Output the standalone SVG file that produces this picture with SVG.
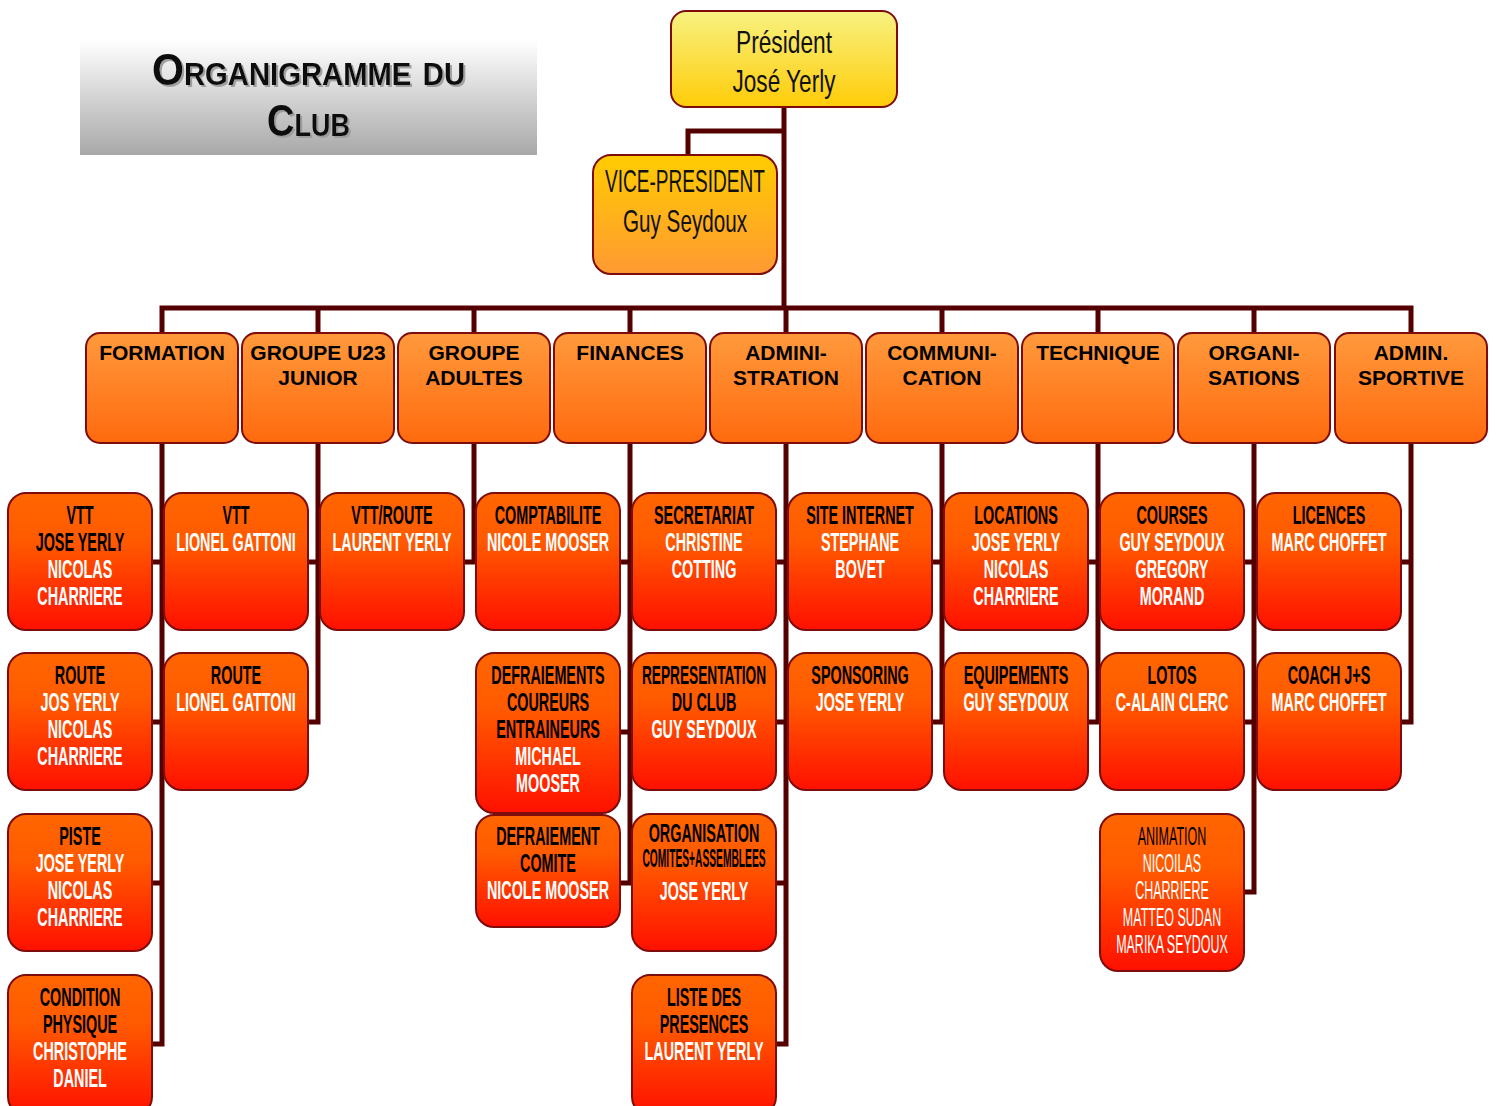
<svg xmlns="http://www.w3.org/2000/svg" width="1496" height="1106" viewBox="0 0 1496 1106">
<defs>
<linearGradient id="gTitle" x1="0" y1="0" x2="0" y2="1"><stop offset="0" stop-color="#ffffff"/><stop offset="1" stop-color="#a8a8a8"/></linearGradient>
<linearGradient id="gPres" x1="0" y1="0" x2="0" y2="1"><stop offset="0" stop-color="#f8f282"/><stop offset="1" stop-color="#ffcc08"/></linearGradient>
<linearGradient id="gVP" x1="0" y1="0" x2="0" y2="1"><stop offset="0" stop-color="#ffcc00"/><stop offset="1" stop-color="#ff9933"/></linearGradient>
<linearGradient id="gDept" x1="0" y1="0" x2="0" y2="1"><stop offset="0" stop-color="#ff9a3c"/><stop offset="1" stop-color="#ff6a0e"/></linearGradient>
<linearGradient id="gLeaf" x1="0" y1="0" x2="0" y2="1"><stop offset="0" stop-color="#ff6600"/><stop offset="0.35" stop-color="#ff5a00"/><stop offset="1" stop-color="#ff1000"/></linearGradient>
<filter id="shadow" x="-5%" y="-20%" width="110%" height="140%"><feDropShadow dx="2" dy="2" stdDeviation="0.6" flood-color="#9a9a9a" flood-opacity="0.9"/></filter>
</defs>
<style>
.conn{stroke:#550000;stroke-width:5;fill:none;stroke-linejoin:miter}
.box{stroke:#7f0c0c;stroke-width:2}
.pres rect{fill:url(#gPres)}
.vp rect{fill:url(#gVP)}
.dept rect{fill:url(#gDept)}
.leaf rect{fill:url(#gLeaf)}
.big{font-family:"Liberation Sans",Arial,sans-serif;font-size:32px;text-anchor:middle;fill:#111}
.dept text{font-family:"Liberation Sans",Arial,sans-serif;font-weight:bold;font-size:21px;text-anchor:middle;fill:#000}
.leaf text{font-family:"Liberation Sans",Arial,sans-serif;font-weight:bold;font-size:25px;text-anchor:middle}
.leaf text.thin{font-weight:normal}
.k{fill:#000}
.w{fill:#fff}
.ttl{font-family:"Liberation Sans",Arial,sans-serif;font-weight:bold;font-size:45px;font-variant:small-caps;fill:#111}
</style>

<g id="title">
<rect x="80" y="40" width="457" height="115" fill="url(#gTitle)"/>
<g class="ttl" filter="url(#shadow)">
<text x="152" y="85" textLength="313" lengthAdjust="spacingAndGlyphs">Organigramme du</text>
<text x="267" y="136" textLength="83" lengthAdjust="spacingAndGlyphs">Club</text>
</g>
</g>

<g id="connectors">
<path class="conn" d="M784 107 V308"/>
<path class="conn" d="M784 131 H688 V155"/>
<path class="conn" d="M162 333 V308 H1411 V333"/>
<path class="conn" d="M318 308 V333 M474 308 V333 M630 308 V333 M786 308 V333 M942 308 V333 M1098 308 V333 M1254 308 V333"/>
<path class="conn" d="M162 443 V1044 H152 M152 562 H162 M152 722 H162 M152 883 H162"/>
<path class="conn" d="M318 443 V722 H308 M308 562 H318"/>
<path class="conn" d="M474 443 V562 H464"/>
<path class="conn" d="M630 443 V883 H620 M620 562 H630 M620 732 H630"/>
<path class="conn" d="M786 443 V1044 H776 M776 562 H786 M776 722 H786 M776 883 H786"/>
<path class="conn" d="M942 443 V722 H932 M932 562 H942"/>
<path class="conn" d="M1098 443 V722 H1088 M1088 562 H1098"/>
<path class="conn" d="M1254 443 V892 H1244 M1244 562 H1254 M1244 722 H1254"/>
<path class="conn" d="M1411 443 V722 H1401 M1401 562 H1411"/>
</g>

<g id="president" class="pres">
<rect class="box" x="671" y="11" width="226" height="96" rx="15"/>
<text class="big" x="784" y="53" textLength="96" lengthAdjust="spacingAndGlyphs">Président</text>
<text class="big" x="784" y="92" textLength="103" lengthAdjust="spacingAndGlyphs">José Yerly</text>
</g>

<g id="vice-president" class="vp">
<rect class="box" x="593" y="155" width="184" height="119" rx="18"/>
<text class="big" x="685" y="192" textLength="160" lengthAdjust="spacingAndGlyphs">VICE-PRESIDENT</text>
<text class="big" x="685" y="232" textLength="124" lengthAdjust="spacingAndGlyphs">Guy Seydoux</text>
</g>

<g id="dept-formation" class="dept"><rect class="box" x="86" y="333" width="152" height="110" rx="14"/><text x="162" y="360">FORMATION</text></g>
<g id="dept-u23" class="dept"><rect class="box" x="242" y="333" width="152" height="110" rx="14"/><text x="318" y="360">GROUPE U23</text><text x="318" y="385">JUNIOR</text></g>
<g id="dept-adultes" class="dept"><rect class="box" x="398" y="333" width="152" height="110" rx="14"/><text x="474" y="360">GROUPE</text><text x="474" y="385">ADULTES</text></g>
<g id="dept-finances" class="dept"><rect class="box" x="554" y="333" width="152" height="110" rx="14"/><text x="630" y="360">FINANCES</text></g>
<g id="dept-administration" class="dept"><rect class="box" x="710" y="333" width="152" height="110" rx="14"/><text x="786" y="360">ADMINI-</text><text x="786" y="385">STRATION</text></g>
<g id="dept-communication" class="dept"><rect class="box" x="866" y="333" width="152" height="110" rx="14"/><text x="942" y="360">COMMUNI-</text><text x="942" y="385">CATION</text></g>
<g id="dept-technique" class="dept"><rect class="box" x="1022" y="333" width="152" height="110" rx="14"/><text x="1098" y="360">TECHNIQUE</text></g>
<g id="dept-organisations" class="dept"><rect class="box" x="1178" y="333" width="152" height="110" rx="14"/><text x="1254" y="360">ORGANI-</text><text x="1254" y="385">SATIONS</text></g>
<g id="dept-adminsportive" class="dept"><rect class="box" x="1335" y="333" width="152" height="110" rx="14"/><text x="1411" y="360">ADMIN.</text><text x="1411" y="385">SPORTIVE</text></g>

<!-- FORMATION -->
<g id="f-vtt" class="leaf"><rect class="box" x="8" y="493" width="144" height="137" rx="18"/>
<g transform="translate(80,493) scale(0.575,1)"><text y="31" class="k">VTT</text><text y="58" class="k">JOSE YERLY</text><text y="85" class="w">NICOLAS</text><text y="112" class="w">CHARRIERE</text></g></g>
<g id="f-route" class="leaf"><rect class="box" x="8" y="653" width="144" height="137" rx="18"/>
<g transform="translate(80,653) scale(0.575,1)"><text y="31" class="k">ROUTE</text><text y="58" class="w">JOS YERLY</text><text y="85" class="w">NICOLAS</text><text y="112" class="w">CHARRIERE</text></g></g>
<g id="f-piste" class="leaf"><rect class="box" x="8" y="814" width="144" height="137" rx="18"/>
<g transform="translate(80,814) scale(0.575,1)"><text y="31" class="k">PISTE</text><text y="58" class="w">JOSE YERLY</text><text y="85" class="w">NICOLAS</text><text y="112" class="w">CHARRIERE</text></g></g>
<g id="f-condition" class="leaf"><rect class="box" x="8" y="975" width="144" height="140" rx="18"/>
<g transform="translate(80,975) scale(0.575,1)"><text y="31" class="k">CONDITION</text><text y="58" class="k">PHYSIQUE</text><text y="85" class="w">CHRISTOPHE</text><text y="112" class="w">DANIEL</text></g></g>

<!-- U23 -->
<g id="u-vtt" class="leaf"><rect class="box" x="164" y="493" width="144" height="137" rx="18"/>
<g transform="translate(236,493) scale(0.575,1)"><text y="31" class="k">VTT</text><text y="58" class="w">LIONEL GATTONI</text></g></g>
<g id="u-route" class="leaf"><rect class="box" x="164" y="653" width="144" height="137" rx="18"/>
<g transform="translate(236,653) scale(0.575,1)"><text y="31" class="k">ROUTE</text><text y="58" class="w">LIONEL GATTONI</text></g></g>

<!-- ADULTES -->
<g id="a-vttroute" class="leaf"><rect class="box" x="320" y="493" width="144" height="137" rx="18"/>
<g transform="translate(392,493) scale(0.575,1)"><text y="31" class="k">VTT/ROUTE</text><text y="58" class="w">LAURENT YERLY</text></g></g>

<!-- FINANCES -->
<g id="fi-compta" class="leaf"><rect class="box" x="476" y="493" width="144" height="137" rx="18"/>
<g transform="translate(548,493) scale(0.575,1)"><text y="31" class="k">COMPTABILITE</text><text y="58" class="w">NICOLE MOOSER</text></g></g>
<g id="fi-defraiements" class="leaf"><rect class="box" x="476" y="653" width="144" height="160" rx="18"/>
<g transform="translate(548,653) scale(0.575,1)"><text y="31" class="k">DEFRAIEMENTS</text><text y="58" class="k">COUREURS</text><text y="85" class="k">ENTRAINEURS</text><text y="112" class="w">MICHAEL</text><text y="139" class="w">MOOSER</text></g></g>
<g id="fi-comite" class="leaf"><rect class="box" x="476" y="815" width="144" height="112" rx="18"/>
<g transform="translate(548,815) scale(0.575,1)"><text y="30" class="k">DEFRAIEMENT</text><text y="57" class="k">COMITE</text><text y="84" class="w">NICOLE MOOSER</text></g></g>

<!-- ADMINISTRATION -->
<g id="ad-secretariat" class="leaf"><rect class="box" x="632" y="493" width="144" height="137" rx="18"/>
<g transform="translate(704,493) scale(0.575,1)"><text y="31" class="k">SECRETARIAT</text><text y="58" class="w">CHRISTINE</text><text y="85" class="w">COTTING</text></g></g>
<g id="ad-representation" class="leaf"><rect class="box" x="632" y="653" width="144" height="137" rx="18"/>
<g transform="translate(704,653) scale(0.575,1)"><text y="31" class="k" textLength="216" lengthAdjust="spacingAndGlyphs">REPRESENTATION</text><text y="58" class="k">DU CLUB</text><text y="85" class="w">GUY SEYDOUX</text></g></g>
<g id="ad-organisation" class="leaf"><rect class="box" x="632" y="814" width="144" height="137" rx="18"/>
<g transform="translate(704,814) scale(0.575,1)"><text y="28" class="k">ORGANISATION</text><text y="53" class="k" font-size="15" textLength="214" lengthAdjust="spacingAndGlyphs">COMITES+ASSEMBLEES</text><text y="86" class="w">JOSE YERLY</text></g></g>
<g id="ad-presences" class="leaf"><rect class="box" x="632" y="975" width="144" height="140" rx="18"/>
<g transform="translate(704,975) scale(0.575,1)"><text y="31" class="k">LISTE DES</text><text y="58" class="k">PRESENCES</text><text y="85" class="w">LAURENT YERLY</text></g></g>

<!-- COMMUNICATION -->
<g id="c-site" class="leaf"><rect class="box" x="788" y="493" width="144" height="137" rx="18"/>
<g transform="translate(860,493) scale(0.575,1)"><text y="31" class="k">SITE INTERNET</text><text y="58" class="w">STEPHANE</text><text y="85" class="w">BOVET</text></g></g>
<g id="c-sponsoring" class="leaf"><rect class="box" x="788" y="653" width="144" height="137" rx="18"/>
<g transform="translate(860,653) scale(0.575,1)"><text y="31" class="k">SPONSORING</text><text y="58" class="w">JOSE YERLY</text></g></g>

<!-- TECHNIQUE -->
<g id="t-locations" class="leaf"><rect class="box" x="944" y="493" width="144" height="137" rx="18"/>
<g transform="translate(1016,493) scale(0.575,1)"><text y="31" class="k">LOCATIONS</text><text y="58" class="w">JOSE YERLY</text><text y="85" class="w">NICOLAS</text><text y="112" class="w">CHARRIERE</text></g></g>
<g id="t-equipements" class="leaf"><rect class="box" x="944" y="653" width="144" height="137" rx="18"/>
<g transform="translate(1016,653) scale(0.575,1)"><text y="31" class="k">EQUIPEMENTS</text><text y="58" class="w">GUY SEYDOUX</text></g></g>

<!-- ORGANISATIONS -->
<g id="o-courses" class="leaf"><rect class="box" x="1100" y="493" width="144" height="137" rx="18"/>
<g transform="translate(1172,493) scale(0.575,1)"><text y="31" class="k">COURSES</text><text y="58" class="w">GUY SEYDOUX</text><text y="85" class="w">GREGORY</text><text y="112" class="w">MORAND</text></g></g>
<g id="o-lotos" class="leaf"><rect class="box" x="1100" y="653" width="144" height="137" rx="18"/>
<g transform="translate(1172,653) scale(0.575,1)"><text y="31" class="k">LOTOS</text><text y="58" class="w">C-ALAIN CLERC</text></g></g>
<g id="o-animation" class="leaf"><rect class="box" x="1100" y="814" width="144" height="157" rx="18"/>
<g transform="translate(1172,814) scale(0.5,1)"><text y="31" class="k thin">ANIMATION</text><text y="58" class="w thin">NICOILAS</text><text y="85" class="w thin">CHARRIERE</text><text y="112" class="w thin">MATTEO SUDAN</text><text y="139" class="w thin">MARIKA SEYDOUX</text></g></g>

<!-- ADMIN. SPORTIVE -->
<g id="s-licences" class="leaf"><rect class="box" x="1257" y="493" width="144" height="137" rx="18"/>
<g transform="translate(1329,493) scale(0.575,1)"><text y="31" class="k">LICENCES</text><text y="58" class="w">MARC CHOFFET</text></g></g>
<g id="s-coach" class="leaf"><rect class="box" x="1257" y="653" width="144" height="137" rx="18"/>
<g transform="translate(1329,653) scale(0.575,1)"><text y="31" class="k">COACH J+S</text><text y="58" class="w">MARC CHOFFET</text></g></g>
</svg>
